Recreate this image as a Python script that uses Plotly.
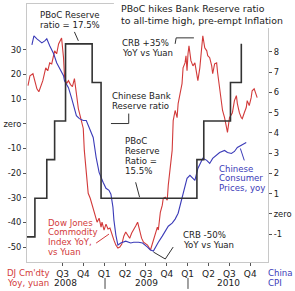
import plotly.graph_objects as go

# ---------------- data ----------------
# x values are months counted from Jan 2008 (0 = start of Jan 2008)
red_month = [1.03,1.31,1.74,2.31,2.59,3.16,3.58,3.87,4.15,4.44,4.86,5.15,5.43,5.86,6.14,6.28,6.57,6.85,7.14,7.42,7.71,7.99,8.27,8.56,8.98,9.13,9.41,9.69,9.98,10.26,10.55,10.83,10.97,11.26,11.54,11.68,11.97,12.25,12.54,12.82,13.11,13.39,13.67,13.96,14.24,14.53,14.81,15.09,15.38,15.66,15.95,16.23,16.52,16.8,17.08,17.37,17.65,18.22,18.65,18.93,19.36,19.64,19.78,20.07,20.35,20.49,20.78,21.06,21.21,21.49,21.77,21.92,22.2,22.48,22.63,22.91,23.19,23.34,23.62,23.76,23.91,24.05,24.19,24.47,24.62,24.76,25.04,25.33,25.47,25.75,26.04,26.18,26.46,26.75,26.89,27.17,27.46,27.6,27.88,28.17,28.31,28.6,28.88,29.02,29.31,29.59,29.73,30.02,30.3,30.44,30.73,31.01,31.15,31.44,31.72,31.86,32.15,32.43,32.57,32.86,33.14,33.28,33.57,33.85,34.0]
red_value = [15.5,19.5,20.3,14.2,13.0,17.5,22.7,21.5,24.7,24.3,29.6,28.4,32.4,34.8,26.8,19.1,16.3,17.5,15.9,15.1,18.3,12.6,6.2,2.9,-1.9,-10.8,-20.9,-28.2,-30.2,-33.0,-35.9,-37.9,-39.9,-38.3,-41.9,-39.9,-43.1,-40.7,-42.7,-42.3,-45.2,-47.2,-49.2,-50.4,-50.0,-48.8,-45.6,-43.9,-45.2,-46.4,-44.3,-43.1,-41.5,-39.9,-43.1,-46.4,-48.0,-49.2,-51.2,-48.4,-44.3,-41.9,-43.1,-35.9,-33.0,-30.2,-29.8,-31.0,-24.9,-18.9,-10.8,1.3,5.4,2.5,8.2,12.2,16.3,22.7,24.7,27.6,21.5,28.4,31.6,25.6,24.3,23.5,24.7,18.3,17.5,22.7,32.4,35.7,30.8,29.6,27.6,26.8,23.5,20.3,24.3,24.7,20.7,14.6,9.4,5.4,2.5,-1.5,-3.5,2.5,4.1,4.5,9.4,11.4,8.2,4.5,2.5,2.1,4.5,6.6,9.4,7.4,10.6,13.4,14.2,11.4,10.6]

cpi_month = [1.59,1.88,2.31,3.02,3.44,3.73,4.15,4.72,5.15,5.57,6.14,6.28,6.85,7.28,7.71,7.99,8.42,8.98,9.41,9.84,10.41,10.83,11.26,11.83,12.25,12.68,12.96,13.25,13.39,13.67,13.96,14.38,15.09,15.81,16.23,16.94,17.51,18.22,18.65,19.07,19.36,19.78,20.35,20.78,21.21,21.77,22.2,22.63,22.91,23.34,23.91,24.33,24.76,25.04,25.47,26.04,26.18,26.75,27.17,27.6,28.17,28.6,29.31,29.73,30.3,30.73,31.15,31.72,32.15,32.43]
cpi_value = [8.34,8.79,8.64,8.44,8.54,8.64,8.30,7.90,7.46,7.16,6.82,6.57,6.23,5.74,5.25,4.85,4.70,4.61,4.61,4.26,3.77,2.79,2.05,1.56,1.26,1.16,0.97,0.33,-0.31,-1.05,-1.54,-1.44,-1.35,-1.44,-1.40,-1.40,-1.44,-1.64,-1.79,-1.84,-1.64,-1.40,-1.10,-0.85,-0.61,-0.46,-0.26,0.03,0.38,1.02,1.75,1.90,1.75,1.65,2.24,2.64,2.74,2.64,2.49,2.74,2.88,3.03,3.13,3.03,2.98,3.08,3.28,3.38,3.47,3.52]

rrr_month = [0.5,2.02,3.73,4.86,6.43,10.26,11.54,25.33,26.32,30.16,31.72]
rrr_value = [15.0,15.5,16.0,16.5,17.5,17.0,15.5,16.0,16.5,17.0,17.5]

x_tickvals = [6,9,12,15,18,21,24,27,30,33]
x_ticktext = ["Q3","Q4","Q1","Q2","Q3","Q4","Q1","Q2","Q3","Q4"]
y_tickvals = [30,20,10,0,-10,-20,-30,-40,-50]
y_ticktext = ["30","20","10","zero","-10","-20","-30","-40","-50"]
y2_tickvals = [8,7,6,5,4,3,2,1,0,-1]
y2_ticktext = ["8","7","6","5","4","3","2","1","zero","-1"]
years = ["2008","2009","2010"]

# ---------------- layout helpers ----------------
W, H = 295, 291
L, R, T, B = 25, 269, 3, 262

def px(x):
    return (x - L) / (R - L)

def py(y):
    return (B - y) / (B - T)

RED = "#d23a3a"
BLUE = "#3b3bb8"
DARK = "#333333"
TXT = "#222222"
FONT = "DejaVu Sans"

fig = go.Figure()
fig.add_trace(go.Scatter(x=rrr_month, y=rrr_value, mode="lines", line=dict(color=DARK, width=1.6, shape="hv"), yaxis="y3"))
fig.add_trace(go.Scatter(x=cpi_month, y=cpi_value, mode="lines", line=dict(color=BLUE, width=1.1), yaxis="y2"))
fig.add_trace(go.Scatter(x=red_month, y=red_value, mode="lines", line=dict(color=RED, width=1.1), yaxis="y"))

ann = []
def text(t, x, y, color=TXT, size=8.6, xanchor="left"):
    ann.append(dict(text=t, x=px(x), y=py(y), xref="paper", yref="paper", showarrow=False,
                    xanchor=xanchor, yanchor="middle", font=dict(family=FONT, size=size, color=color)))

text("PBoC hikes Bank Reserve ratio", 118, 8, size=9.4)
text("to all-time high, pre-empt Inflation", 118, 20, size=9.4)
text("PBoC Reserve", 68.5, 14, xanchor="center")
text("ratio = 17.5%", 68.5, 24, xanchor="center")
text("CRB +35%", 119, 42)
text("YoY vs Yuan", 119, 52)
text("Chinese Bank", 109, 95)
text("Reserve ratio", 109, 105)
text("PBoC", 122, 141)
text("Reserve", 122, 151)
text("Ratio =", 122, 161)
text("15.5%", 122, 171)
text("Chinese", 217, 169, color=BLUE)
text("Consumer", 217, 178, color=BLUE)
text("Prices, yoy", 217, 188, color=BLUE)
text("CRB -50%", 181, 235)
text("YoY vs Yuan", 181, 245)
text("Dow Jones", 44, 223, color=RED)
text("Commodity", 44, 232, color=RED)
text("Index YoY,", 44, 242, color=RED)
text("vs Yuan", 44, 252, color=RED)
text("DJ Cm'dty", 3, 273, color=RED)
text("Yoy, yuan", 3, 283, color=RED)
text("China", 267, 273, color=BLUE)
text("CPI", 267, 283, color=BLUE)
for yr, cx in zip(years, [64, 146, 229]):
    text(yr, cx, 283.5, size=9, xanchor="center")

shapes = []
def seg(pts, color=DARK, width=1):
    d = "M " + " L ".join(f"{px(x):.5f},{py(y):.5f}" for x, y in pts)
    shapes.append(dict(type="path", path=d, xref="paper", yref="paper", line=dict(color=color, width=width), layer="above"))

# white box behind title
shapes.append(dict(type="rect", xref="paper", yref="paper", x0=px(113), x1=px(296), y0=py(27), y1=py(-2),
                   fillcolor="white", line=dict(width=0), layer="above"))
seg([(73, 31), (77, 40)])
seg([(175, 43), (176, 37), (194, 37)])
seg([(128, 113), (128, 123), (110, 123)])
seg([(135, 182), (139, 197)])
seg([(241, 148), (245, 160)], color=BLUE)
seg([(153, 252), (165, 259), (173, 247)])
seg([(95, 243), (108, 234)], color=RED)
seg([(104, 278), (104, 289)], color="#444")
seg([(188, 278), (188, 289)], color="#444")

axis_common = dict(showgrid=False, zeroline=False, showline=True, linecolor="#c8c8c8", linewidth=1,
                   ticks="outside", ticklen=3, tickcolor="#555")

fig.update_layout(
    width=W, height=H, margin=dict(l=L, r=W - R, t=T, b=H - B),
    paper_bgcolor="white", plot_bgcolor="white", showlegend=False,
    font=dict(family=FONT, color=TXT),
    xaxis=dict(range=[0.884, 35.56], tickvals=x_tickvals, ticktext=x_ticktext,
               tickfont=dict(size=9, color=TXT), mirror=True, **axis_common),
    yaxis=dict(range=[-56.06, 48.59], tickvals=y_tickvals, ticktext=y_ticktext,
               tickfont=dict(size=8.4, color=TXT), **axis_common),
    yaxis2=dict(range=[-2.377, 10.36], tickvals=y2_tickvals, ticktext=y2_ticktext, overlaying="y", side="right",
                tickfont=dict(size=8.4, color=TXT), **axis_common),
    yaxis3=dict(range=[14.674, 18.016], overlaying="y", visible=False),
    annotations=ann, shapes=shapes,
)

fig.write_html("out.html")
